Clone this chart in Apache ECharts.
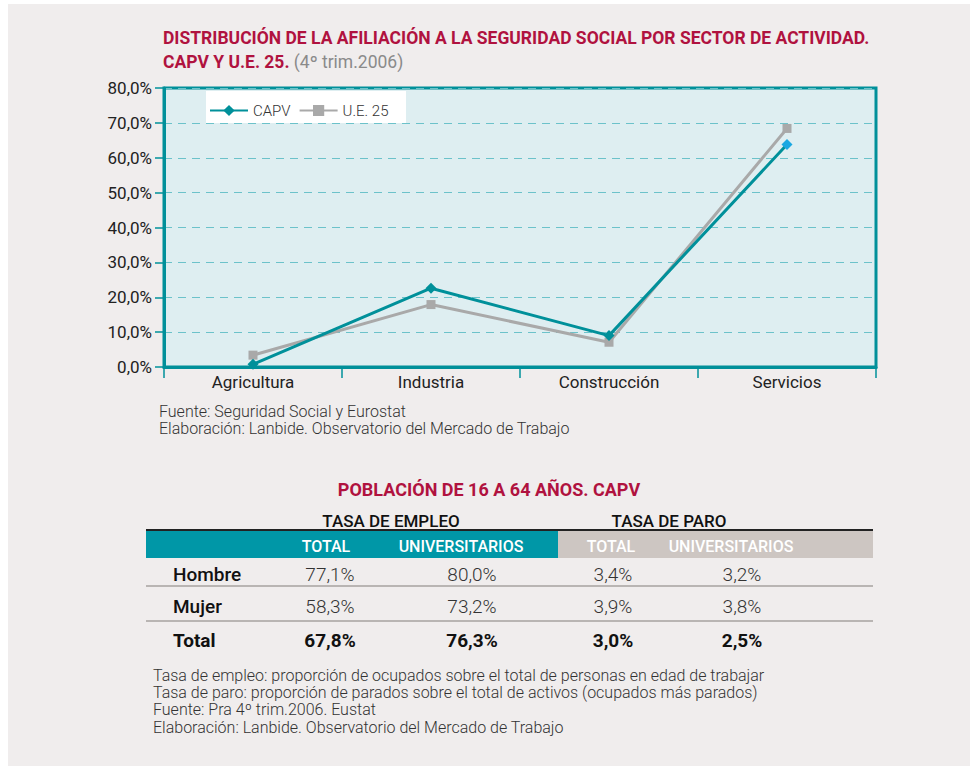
<!DOCTYPE html>
<html><head><meta charset="utf-8">
<script src="https://cdn.jsdelivr.net/npm/echarts@6/dist/echarts.min.js"></script>
<style>html,body{margin:0;padding:0;background:#fff}#c{width:973px;height:766px}</style>
</head><body><div id="c"></div>
<script>
// ---- chart data ----
const categories = ['Agricultura', 'Industria', 'Construcción', 'Servicios'];
const capv = [0.8, 22.6, 9.0, 63.8];
const ue25 = [3.4, 17.9, 7.1, 68.4];
const seriesNames = ['CAPV', 'U.E. 25'];
const yMin = 0, yMax = 80, yStep = 10;

// ---- table data ----
const tableTitle = 'POBLACIÓN DE 16 A 64 AÑOS. CAPV';
const tableGroups = ['TASA DE EMPLEO', 'TASA DE PARO'];
const tableCols = ['TOTAL', 'UNIVERSITARIOS', 'TOTAL', 'UNIVERSITARIOS'];
const rowLabels = ['Hombre', 'Mujer', 'Total'];
const rowHombre = [77.1, 80.0, 3.4, 3.2];
const rowMujer = [58.3, 73.2, 3.9, 3.8];
const rowTotal = [67.8, 76.3, 3.0, 2.5];

const chartNotes = ['Fuente: Seguridad Social y Eurostat', 'Elaboración: Lanbide. Observatorio del Mercado de Trabajo'];
const tableNotes = ['Tasa de empleo: proporción de ocupados sobre el total de personas en edad de trabajar',
  'Tasa de paro: proporción de parados sobre el total de activos (ocupados más parados)',
  'Fuente: Pra 4º trim.2006. Eustat',
  'Elaboración: Lanbide. Observatorio del Mercado de Trabajo'];

const FONT = 'Roboto, "Noto Sans", sans-serif';
const RED = '#b0123f';
const TEAL = '#00909a';
const GREY = '#a9a9a9';
const fmt = v => v.toFixed(1).replace('.', ',') + '%';

const chart = echarts.init(document.getElementById('c'), null, {renderer: 'svg'});

// table graphics
const g = [];
g.push({type: 'rect', shape: {x: 8, y: 4, width: 962, height: 762}, style: {fill: '#f0eded'}, z: -10, silent: true});
g.push({type: 'text', x: 489, y: 489, style: {text: tableTitle, font: 'bold 18px ' + FONT, fill: RED, textAlign: 'center', textVerticalAlign: 'middle'}});
const groupX = [391, 669];
tableGroups.forEach((t, i) => g.push({type: 'text', x: groupX[i], y: 521, style: {text: t, font: '500 17px ' + FONT, fill: '#111', textAlign: 'center', textVerticalAlign: 'middle'}}));
g.push({type: 'rect', shape: {x: 146, y: 529, width: 727, height: 2}, style: {fill: '#222'}});
g.push({type: 'rect', shape: {x: 146, y: 531, width: 412, height: 27}, style: {fill: '#0097a7'}});
g.push({type: 'rect', shape: {x: 558, y: 531, width: 315, height: 27}, style: {fill: '#cdc6c2'}});
const colX = [326, 461, 611, 731];
tableCols.forEach((t, i) => g.push({type: 'text', x: colX[i], y: 546, style: {text: t, font: '500 16px ' + FONT, fill: '#fff', textAlign: 'center', textVerticalAlign: 'middle'}}));
const valX = [330, 472, 613, 742];
const rows = [rowHombre, rowMujer, rowTotal];
const rowY = [574, 606, 640];
rows.forEach((r, ri) => {
  const bold = ri === 2;
  g.push({type: 'text', x: 173, y: rowY[ri], style: {text: rowLabels[ri], font: (bold ? 'bold ' : '500 ') + '19px ' + FONT, fill: '#111', textVerticalAlign: 'middle'}});
  r.forEach((v, ci) => g.push({type: 'text', x: valX[ci], y: rowY[ri], style: {text: fmt(v), font: (bold ? 'bold 19px ' : '300 19px ') + FONT, fill: bold ? '#111' : '#333', textAlign: 'center', textVerticalAlign: 'middle'}}));
});
[585, 620].forEach(y => g.push({type: 'rect', shape: {x: 146, y: y, width: 727, height: 2}, style: {fill: '#b9b5b3'}}));
chartNotes.forEach((t, i) => g.push({type: 'text', x: 159, y: 411 + i * 17.5, style: {text: t, font: '300 16px ' + FONT, fill: '#333', textVerticalAlign: 'middle'}}));
tableNotes.forEach((t, i) => g.push({type: 'text', x: 153, y: 675 + i * 17.4, style: {text: t, font: '300 16px ' + FONT, fill: '#333', textVerticalAlign: 'middle'}}));
// legend background box
g.push({type: 'rect', shape: {x: 206, y: 91, width: 200, height: 32}, style: {fill: '#ffffff'}, z: 5});

chart.setOption({
  animation: false,
  textStyle: {fontFamily: FONT},
  title: {
    left: 158, top: 21,
    text: 'DISTRIBUCIÓN DE LA AFILIACIÓN A LA SEGURIDAD SOCIAL POR SECTOR DE ACTIVIDAD.\n{r|CAPV Y U.E. 25.} {g|(4º trim.2006)}',
    textStyle: {fontFamily: FONT, fontSize: 17.5, fontWeight: 'bold', color: RED, lineHeight: 24,
      rich: {r: {fontFamily: FONT, fontSize: 17.5, fontWeight: 'bold', color: RED, lineHeight: 24}, g: {fontFamily: FONT, fontSize: 17.5, fontWeight: 'normal', color: '#8a8a8a', lineHeight: 24}}}
  },
  graphic: g,
  legend: {
    left: 204, top: 98, z: 10, itemWidth: 38, itemHeight: 14, itemGap: 8,
    textStyle: {fontSize: 15, color: '#333', fontWeight: 300},
    data: [{name: seriesNames[0]}, {name: seriesNames[1]}]
  },
  grid: {left: 164, right: 97, top: 88, bottom: 399, show: true, backgroundColor: '#deeef1', borderColor: TEAL, borderWidth: 3},
  xAxis: {
    type: 'category', data: categories, boundaryGap: true,
    axisLine: {lineStyle: {color: TEAL, width: 3}},
    axisTick: {show: true, length: 11, interval: 0, lineStyle: {color: TEAL, width: 1.5}},
    axisLabel: {fontSize: 17, color: '#222', margin: 6, fontWeight: 400}
  },
  yAxis: {
    type: 'value', min: yMin, max: yMax, interval: yStep,
    axisLine: {show: true, lineStyle: {color: TEAL, width: 3}},
    axisTick: {show: true, length: 9, lineStyle: {color: TEAL, width: 1.5}},
    axisLabel: {formatter: v => v.toFixed(1).replace('.', ',') + '%', fontSize: 17, color: '#222', margin: 12},
    splitLine: {show: true, lineStyle: {color: '#6cc2ca', type: [8, 6], width: 1.2}}
  },
  series: [
    {name: seriesNames[0], type: 'line', data: capv.map((v, i) => i === capv.length - 1 ? {value: v, itemStyle: {color: '#1aa8e2'}} : v),
      symbol: 'diamond', symbolSize: 11, lineStyle: {color: TEAL, width: 3}, itemStyle: {color: TEAL}, z: 4},
    {name: seriesNames[1], type: 'line', data: ue25,
      symbol: 'rect', symbolSize: 9, lineStyle: {color: GREY, width: 3}, itemStyle: {color: GREY}, z: 3}
  ]
});
</script></body></html>
